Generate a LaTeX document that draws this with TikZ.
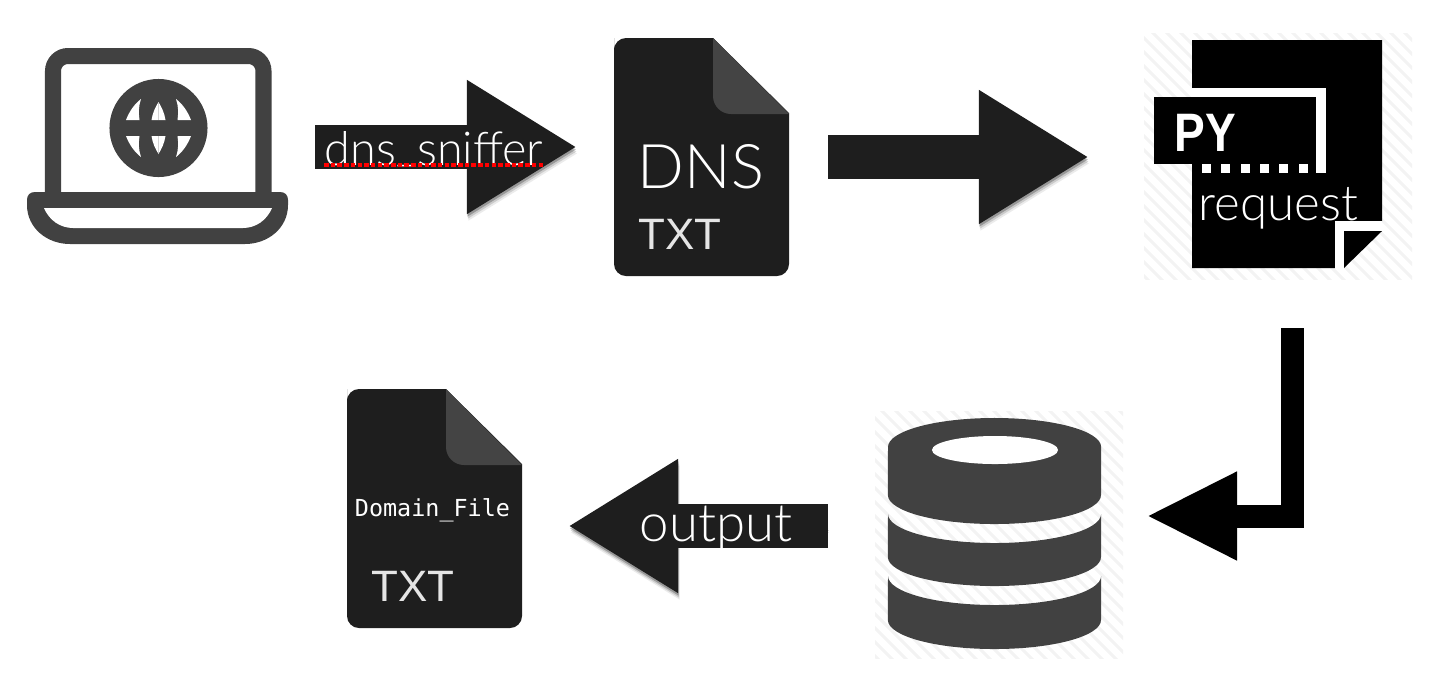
\documentclass[tikz,border=0pt]{standalone}
\usepackage{fontspec}
\setmainfont{Lato Light}
\newfontfamily\domfont{DejaVu Sans Mono}
\newfontfamily\plainfont{Liberation Sans}
\usetikzlibrary{arrows.meta}
\definecolor{filedark}{HTML}{1E1E1E}
\definecolor{folddark}{HTML}{444444}
\definecolor{icondark}{HTML}{414141}
\definecolor{hatchgray}{HTML}{F3F3F3}
\tikzset{
  spot/.style={inner sep=0pt,outer sep=0pt},
  lbl/.style={inner sep=0pt,anchor=base,text=white},
  fatarrow/.style={line width=0.43cm,draw=filedark,-{Triangle[length=1.1cm,width=1.26cm]},
    preaction={draw=black,opacity=0.08,transform canvas={shift={(0.015cm,-0.065cm)}}},
    preaction={draw=black,opacity=0.14,transform canvas={shift={(0.01cm,-0.045cm)}}},
    preaction={draw=black,opacity=0.25,transform canvas={shift={(0.005cm,-0.025cm)}}}},
  bentarrow/.style={line width=0.23cm,draw=black,miter limit=10,-{Triangle[length=0.91cm,width=0.82cm]}}
}
\begin{document}
\begin{tikzpicture}[x=0.01cm,y=-0.01cm]
  \useasboundingbox (0,0) rectangle (1430,672);

  % places of the pictures
  \node[spot,minimum width=2.61cm,minimum height=1.97cm] (laptop) at (157.5,147) {};
  \node[spot,minimum width=1.75cm,minimum height=2.38cm] (dnsfile) at (701.5,157) {};
  \node[spot,minimum width=2.68cm,minimum height=2.46cm] (pyreq) at (1278,156) {};
  \node[spot,minimum width=2.48cm,minimum height=2.47cm] (dbase) at (999,534.5) {};
  \node[spot,minimum width=1.75cm,minimum height=2.39cm] (domfile) at (434.5,508.5) {};

  % laptop
  \draw[icondark,line width=0.16cm,rounded corners=0.15cm] (53,195) -- (53,56) -- (263.5,56) -- (263.5,195);
  \fill[icondark] (27,200) .. controls (27,195) and (30,192) .. (35,192) -- (280,192)
    .. controls (285,192) and (288,195) .. (288,200) -- (288,205)
    .. controls (288,228) and (268,244) .. (245,244) -- (70,244)
    .. controls (47,244) and (27,228) .. (27,205) -- cycle;
  \fill[white] (44,208) -- (272,208) .. controls (267,220) and (256,228) .. (243,228)
    -- (73,228) .. controls (60,228) and (49,220) .. (44,208) -- cycle;
  % globe
  \fill[icondark] (158.5,128) circle (0.49cm);
  \foreach \sx in {1,-1}
    \foreach \sy in {1,-1} {
      \begin{scope}[shift={(158.5,128)},xscale=\sx,yscale=\sy]
        \fill[white] (-32.5,-8) .. controls (-29,-17) and (-24,-24) .. (-17.5,-29)
          .. controls (-20,-22) and (-20,-15) .. (-19,-8) -- cycle;
        \fill[white] (-7,-8) .. controls (-6,-15) and (-3,-21) .. (0,-26) -- (0,-8) -- cycle;
      \end{scope}
    }

  % text files
  \foreach \fx/\fy/\fh in {614/38/238,347/389/239} {
    \begin{scope}[shift={(\fx,\fy)}]
      \fill[filedark] (0,12) [rounded corners=0.12cm] -- (0,0) [sharp corners] -- (99,0) -- (175,75)
        [rounded corners=0.12cm] -- (175,\fh) -- (0,\fh) -- (0,12) -- cycle;
      \fill[folddark] (99,0) [rounded corners=0.18cm] -- (99,76) [sharp corners] -- (175,76) -- cycle;
    \end{scope}
  }
  \node[lbl,font=\fontsize{17.5}{18}\selectfont] (dnsname) at (701,188) {DNS};
  \node[lbl,font=\plainfont\fontsize{12.5}{14}\selectfont,text=white!90!black] (dnstxt) at (680,249) {TXT};
  \node[lbl,font=\domfont\fontsize{6.66}{8}\selectfont] (domname) at (432.5,516) {Domain\_File};
  \node[lbl,font=\plainfont\fontsize{12.5}{14}\selectfont,text=white!90!black] (domtxt) at (413,601) {TXT};

  % py file
  \begin{scope}
    \clip (1144,33) rectangle (1412,279);
    \foreach \d in {0,14,...,520}
      \draw[hatchgray,line width=0.03cm] (1144+\d,290) -- (1144+\d-270,20);
  \end{scope}
  \fill[black] (1192,40) -- (1382,40) -- (1382,221) -- (1335,221) -- (1335,268) -- (1192,268) -- cycle;
  \fill[white] (1192,88) rectangle (1326,173);
  \fill[black] (1192,164) rectangle (1316,173);
  \fill[black] (1154,97) rectangle (1316,164);
  \foreach \sq in {1202,1221.3,...,1300}
    \fill[white] (\sq,164) rectangle ++(9,9);
  \fill[white] (1335,221) rectangle (1344,268);
  \fill[white] (1335,221) rectangle (1382,231);
  \fill[black] (1344,231) -- (1382,231) -- (1344,268) -- cycle;
  \node[lbl,font=\plainfont\fontsize{15.4}{16}\bfseries\selectfont,xscale=0.85] (pyname) at (1205.5,151) {PY};
  \node[lbl,font=\fontsize{14}{15}\selectfont] (reqname) at (1278.5,220) {request};

  % database
  \begin{scope}
    \clip (875,411) rectangle (1123,658);
    \foreach \d in {0,14,...,520}
      \draw[hatchgray,line width=0.03cm] (875+\d,670) -- (875+\d-270,400);
  \end{scope}
  \fill[icondark] (888,447) arc[start angle=180,end angle=0,x radius=1.065cm,y radius=0.29cm]
    -- (1101,495) arc[start angle=0,end angle=-180,x radius=1.065cm,y radius=0.29cm] -- cycle;
  \fill[white] (995,450) ellipse (0.63cm and 0.14cm);
  \fill[icondark] (888,514) arc[start angle=180,end angle=360,x radius=1.065cm,y radius=0.29cm]
    -- (1101,557) arc[start angle=0,end angle=-180,x radius=1.065cm,y radius=0.29cm] -- cycle;
  \fill[icondark] (888,576) arc[start angle=180,end angle=360,x radius=1.065cm,y radius=0.29cm]
    -- (1101,620) arc[start angle=0,end angle=-180,x radius=1.065cm,y radius=0.29cm] -- cycle;

  % arrows
  \coordinate (turn) at (1292.5,516);
  \draw[fatarrow,shorten <=0.27cm,shorten >=0.37cm] (laptop.east) -- (laptop.east -| dnsfile.west);
  \draw[fatarrow,shorten <=0.39cm,shorten >=0.55cm] (dnsfile.east) -- (dnsfile.east -| pyreq.west);
  \draw[bentarrow,shorten <=0.49cm,shorten >=0.23cm] (pyreq.south -| turn) -- (turn) -- (turn -| dbase.east);
  \draw[fatarrow,shorten <=0.47cm,shorten >=0.46cm] ([yshift=0.085cm]dbase.west) -- ([yshift=0.085cm]dbase.west -| domfile.east);

  % arrow labels
  \node[lbl,font=\fontsize{13.3}{14}\selectfont] (snifname) at (434,165) {dns\raisebox{0.09em}{\_}snif{}fer};
  \draw[red,line width=0.035cm,dash pattern=on 0.045cm off 0.022cm] (snifname.base west) -- (snifname.base east);
  \node[lbl,font=\fontsize{15}{17}\selectfont] (outname) at (716,541) {output};
\end{tikzpicture}
\end{document}
